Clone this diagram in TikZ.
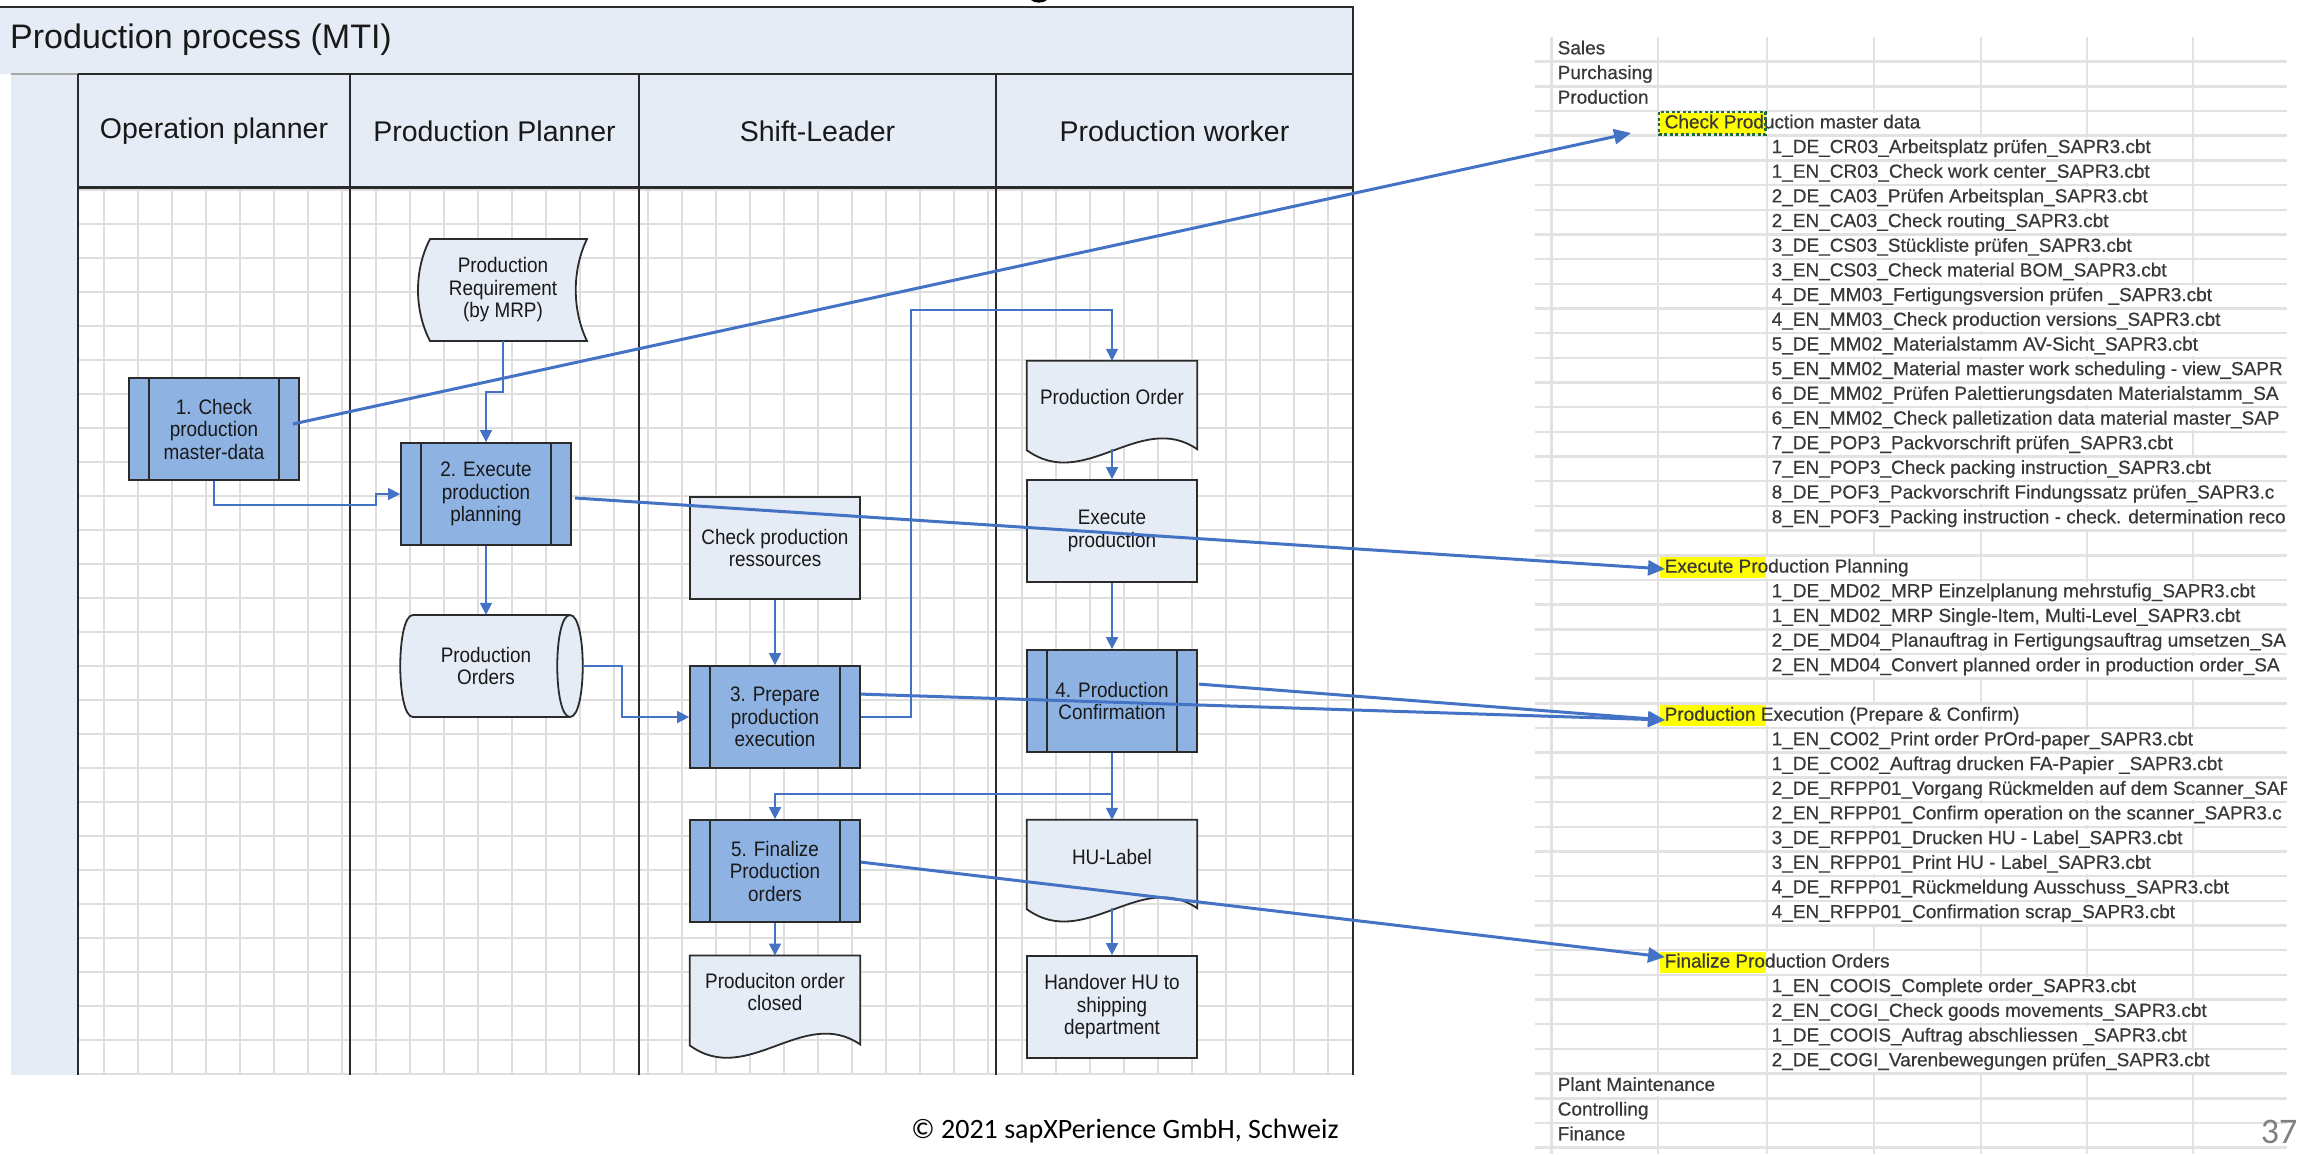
\documentclass[tikz,border=0pt]{standalone}
\usepackage{fontspec}
\setmainfont{Liberation Sans}
\newfontfamily\boxfont[FakeStretch=0.9]{Liberation Sans}
\newfontfamily\sheetfont[FakeBold=0.5]{Liberation Sans}
\newfontfamily\footfont{Carlito}
\usetikzlibrary{arrows.meta,calc}

\definecolor{lanefill}{HTML}{E6ECF6}
\definecolor{taskfill}{HTML}{8EB3E3}
\definecolor{flowblue}{HTML}{4472C4}
\definecolor{gridgray}{HTML}{DEDEDE}
\definecolor{edgegray}{HTML}{2B2B2B}
\definecolor{sheetgray}{HTML}{E2E2E2}
\definecolor{marker}{HTML}{FFFF00}
\definecolor{antgreen}{HTML}{1E6B3A}

\tikzset{
  lanehead/.style={font=\fontsize{28.5}{30}\selectfont, text=black!90, inner sep=0pt},
  boxtext/.style={font=\boxfont\fontsize{21}{22.5}\selectfont, align=center, text=black!90},
  taskbox/.style={boxtext, draw=edgegray, line width=1.8pt, fill=taskfill,
    minimum width=170pt, minimum height=102pt, inner sep=0pt,
    path picture={
      \draw[edgegray, line width=1.8pt]
        ([xshift=20pt]path picture bounding box.north west) --
        ([xshift=20pt]path picture bounding box.south west);
      \draw[edgegray, line width=1.8pt]
        ([xshift=-20pt]path picture bounding box.north east) --
        ([xshift=-20pt]path picture bounding box.south east);}},
  infobox/.style={boxtext, draw=edgegray, line width=1.8pt, fill=lanefill,
    minimum width=170pt, minimum height=102pt, inner sep=0pt},
  shapebody/.style={draw=edgegray, line width=1.8pt, fill=lanefill},
  shapeanchor/.style={inner sep=0pt, minimum width=170pt},
  flowline/.style={draw=flowblue, line width=1.6pt, -{Triangle[length=12pt,width=12pt]}},
  sheetlink/.style={draw=flowblue, line width=3pt, -{Triangle[length=17pt,width=15pt]}},
  gridline/.style={draw=gridgray, line width=1.6pt},
  laneline/.style={draw=edgegray, line width=1.6pt},
  sheetrule/.style={draw=sheetgray, line width=2.5pt},
  sheetcol/.style={draw=sheetgray, line width=2.2pt},
  sheetcell/.style={anchor=west, fill=white, font=\sheetfont\fontsize{19}{21}\selectfont,
    text=black!78, inner xsep=1pt, inner ysep=1.5pt, text height=14pt, text depth=4pt},
  sheethead/.style={sheetcell, inner xsep=5pt,
    path picture={\fill[marker] (path picture bounding box.south west) rectangle
      ([xshift=106pt]path picture bounding box.north west);}},
}

% document symbol with a wavy lower edge, drawn round an anchor node
\newcommand\docshape[1]{%
  \path[shapebody] (#1.north west) -- (#1.north east) -- (#1.south east)
    .. controls +(-57,-39) and +(58,42) .. ($(#1.south west)+(0,1)$) -- cycle;}

% spreadsheet rows: column A, column C and highlighted column B entries
\newcommand\namerow[3]{\node[sheetcell] (#1) at (1556.5,{37+24.68*(#2-0.5)}) {#3};}
\newcommand\itemrow[3]{\node[sheetcell] (#1) at (1770.5,{37+24.68*(#2-0.5)}) {#3};}
\newcommand\headrow[3]{\node[sheethead] (#1) at (1659.5,{37+24.68*(#2-0.5)}) {#3};}

\begin{document}
\begin{tikzpicture}[x=1pt, y=-1pt]
\useasboundingbox (0,0) rectangle (2307,1154);
\fill[white] (0,0) rectangle (2307,1154);

% ---------------- swimlane frame ----------------
\fill[lanefill] (0,6) rectangle (1353,74);
\fill[lanefill] (78,74) rectangle (1353,187);
\fill[lanefill] (11,74) rectangle (78,1075);
\foreach \gx in {0,...,36} \draw[gridline] ({104+34*\gx},188) -- ({104+34*\gx},1075);
\foreach \gy in {0,...,26} \draw[gridline] (79,{190+34*\gy}) -- (1352,{190+34*\gy});
\draw[edgegray, line width=2pt] (0,6.5) -- (1353,6.5);
\draw[black!35, line width=1.5pt] (11,74) -- (78,74);
\draw[edgegray, line width=2pt] (78,74) -- (1353,74);
\draw[edgegray, line width=3pt] (78,187) -- (1353,187);
\draw[laneline] (78,74) -- (78,1075);
\foreach \lx in {350,639,996} \draw[laneline] (\lx,74) -- (\lx,1075);
\draw[laneline] (1353,5.5) -- (1353,1075);
\fill[black] (1031,0) .. controls (1034,3.5) and (1044,3.5) .. (1047,0) -- cycle;

\node[lanehead, font=\fontsize{34}{36}\selectfont, anchor=west] (title) at (10,40) {Production process (MTI)};
\node[lanehead] (hOp) at (214,131) {Operation planner};
\node[lanehead] (hPP) at (494.5,131) {Production Planner};
\node[lanehead] (hSL) at (817.5,131) {Shift-Leader};
\node[lanehead] (hPW) at (1174.5,131) {Production worker};

% ---------------- process symbols ----------------
\path[shapebody] (430,239) -- (587,239) .. controls (572,270) and (572,310) .. (587,341)
  -- (430,341) .. controls (414,310) and (414,270) .. (430,239) -- cycle;
\node[boxtext, minimum width=157pt, minimum height=102pt, inner sep=0pt] (req) at (503,290)
  {Production\\Requirement\\(by MRP)};

\node[taskbox] (t1) at (214,429) {1. Check\\production\\master-data};
\node[taskbox] (t2) at (486,494) {2. Execute\\production\\planning};

\path[shapebody] (413,615) -- (570,615) .. controls (587,615) and (587,717) .. (570,717)
  -- (413,717) .. controls (396,717) and (396,615) .. (413,615) -- cycle;
\draw[edgegray, line width=1.8pt] (570,615) .. controls (553,615) and (553,717) .. (570,717);
\node[boxtext, minimum width=194pt, minimum height=102pt, inner sep=0pt] (ord) at (486,666)
  {Production\\Orders};

\node[infobox] (res) at (775,548) {Check production\\ressources};
\node[taskbox] (t3) at (775,717) {3. Prepare\\production\\execution};
\node[taskbox] (t5) at (775,871) {5. Finalize\\Production\\orders};
\node[shapeanchor, minimum height=88.5pt] (closed) at (775,1000) {};
\docshape{closed}
\node[boxtext] (closedText) at (775,992) {Produciton order\\closed};

\node[shapeanchor, minimum height=88pt] (po) at (1112,405) {};
\docshape{po}
\node[boxtext] (poText) at (1112,397) {Production Order};
\node[infobox] (exe) at (1112,531) {Execute\\production};
\node[taskbox] (t4) at (1112,701) {4. Production\\Confirmation};
\node[shapeanchor, minimum height=88pt] (hu) at (1112,864) {};
\docshape{hu}
\node[boxtext] (huText) at (1112,857) {HU-Label};
\node[infobox] (hand) at (1112,1007) {Handover HU to\\shipping\\department};

% ---------------- process flow ----------------
\draw[flowline] (req.south) -- (503,392) -- (486,392) -- (t2.north);
\draw[flowline] (t1.south) -- (214,505) -- (376,505) -- (376,494) -- (t2.west);
\draw[flowline] (t2.south) -- (ord.north);
\draw[flowline] (ord.east) -- (622,666) -- (622,717) -- (t3.west);
\draw[flowline] (t3.east) -- (911,717) -- (911,310) -- (1112,310) -- (po.north);
\draw[flowline] (po.south) -- (exe.north);
\draw[flowline] (res.south) -- (t3.north);
\draw[flowline] (exe.south) -- (t4.north);
\coordinate (split) at (1112,794);
\draw[flowline] (t4.south) -- (split) -- (hu.north);
\draw[flowline] (split) -- (775,794) -- (t5.north);
\draw[flowline] (hu.south) -- (hand.north);
\draw[flowline] (t5.south) -- (closed.north);

% ---------------- script list (spreadsheet) ----------------
\begin{scope}
\clip (1535,37) rectangle (2287,1154);
\foreach \k in {1,...,45} \draw[sheetrule] (1535,{37+24.68*\k}) -- (2287,{37+24.68*\k});
\foreach \cx in {1551.5,1658,1766.6,1874,1981,2087,2193} \draw[sheetcol] (\cx,37) -- (\cx,1154);

\namerow{sSales}{1}{Sales}
\namerow{sPurch}{2}{Purchasing}
\namerow{sProd}{3}{Production}
\headrow{hdA}{4}{Check Production master data}
\itemrow{r5}{5}{1\_DE\_CR03\_Arbeitsplatz prüfen\_SAPR3.cbt}
\itemrow{r6}{6}{1\_EN\_CR03\_Check work center\_SAPR3.cbt}
\itemrow{r7}{7}{2\_DE\_CA03\_Prüfen Arbeitsplan\_SAPR3.cbt}
\itemrow{r8}{8}{2\_EN\_CA03\_Check routing\_SAPR3.cbt}
\itemrow{r9}{9}{3\_DE\_CS03\_Stückliste prüfen\_SAPR3.cbt}
\itemrow{r10}{10}{3\_EN\_CS03\_Check material BOM\_SAPR3.cbt}
\itemrow{r11}{11}{4\_DE\_MM03\_Fertigungsversion prüfen \_SAPR3.cbt}
\itemrow{r12}{12}{4\_EN\_MM03\_Check production versions\_SAPR3.cbt}
\itemrow{r13}{13}{5\_DE\_MM02\_Materialstamm AV-Sicht\_SAPR3.cbt}
\itemrow{r14}{14}{5\_EN\_MM02\_Material master work scheduling - view\_SAPR}
\itemrow{r15}{15}{6\_DE\_MM02\_Prüfen Palettierungsdaten Materialstamm\_SA}
\itemrow{r16}{16}{6\_EN\_MM02\_Check palletization data material master\_SAP}
\itemrow{r17}{17}{7\_DE\_POP3\_Packvorschrift prüfen\_SAPR3.cbt}
\itemrow{r18}{18}{7\_EN\_POP3\_Check packing instruction\_SAPR3.cbt}
\itemrow{r19}{19}{8\_DE\_POF3\_Packvorschrift Findungssatz prüfen\_SAPR3.c}
\itemrow{r20}{20}{8\_EN\_POF3\_Packing instruction - check. determination reco}
\headrow{hdB}{22}{Execute Production Planning}
\itemrow{r23}{23}{1\_DE\_MD02\_MRP Einzelplanung mehrstufig\_SAPR3.cbt}
\itemrow{r24}{24}{1\_EN\_MD02\_MRP Single-Item, Multi-Level\_SAPR3.cbt}
\itemrow{r25}{25}{2\_DE\_MD04\_Planauftrag in Fertigungsauftrag umsetzen\_SA}
\itemrow{r26}{26}{2\_EN\_MD04\_Convert planned order in production order\_SA}
\headrow{hdC}{28}{Production Execution (Prepare \& Confirm)}
\itemrow{r29}{29}{1\_EN\_CO02\_Print order PrOrd-paper\_SAPR3.cbt}
\itemrow{r30}{30}{1\_DE\_CO02\_Auftrag drucken FA-Papier \_SAPR3.cbt}
\itemrow{r31}{31}{2\_DE\_RFPP01\_Vorgang Rückmelden auf dem Scanner\_SAP}
\itemrow{r32}{32}{2\_EN\_RFPP01\_Confirm operation on the scanner\_SAPR3.c}
\itemrow{r33}{33}{3\_DE\_RFPP01\_Drucken HU - Label\_SAPR3.cbt}
\itemrow{r34}{34}{3\_EN\_RFPP01\_Print HU - Label\_SAPR3.cbt}
\itemrow{r35}{35}{4\_DE\_RFPP01\_Rückmeldung Ausschuss\_SAPR3.cbt}
\itemrow{r36}{36}{4\_EN\_RFPP01\_Confirmation scrap\_SAPR3.cbt}
\headrow{hdD}{38}{Finalize Production Orders}
\itemrow{r39}{39}{1\_EN\_COOIS\_Complete order\_SAPR3.cbt}
\itemrow{r40}{40}{2\_EN\_COGI\_Check goods movements\_SAPR3.cbt}
\itemrow{r41}{41}{1\_DE\_COOIS\_Auftrag abschliessen \_SAPR3.cbt}
\itemrow{r42}{42}{2\_DE\_COGI\_Varenbewegungen prüfen\_SAPR3.cbt}
\namerow{sPM}{43}{Plant Maintenance}
\namerow{sCtrl}{44}{Controlling}
\namerow{sFin}{45}{Finance}
\draw[antgreen, line width=2.2pt, dash pattern=on 3pt off 2.5pt] (1659,112.2) rectangle (1765.5,134.5);
\end{scope}

% ---------------- links from process steps to scripts ----------------
\coordinate (tgtA) at (1631,133);
\coordinate (tgtB) at (1665,569);
\coordinate (tgtC) at (1665,720);
\coordinate (tgtD) at (1665,957);
\draw[sheetlink] ([xshift=-7pt,yshift=5pt]t1.east) -- (tgtA);
\draw[sheetlink] ([xshift=3pt,yshift=-4pt]t2.east) -- (tgtB);
\draw[sheetlink] ([yshift=-29pt]t3.north east) -- (tgtC);
\draw[sheetlink] ([xshift=1pt,yshift=-35pt]t4.north east) -- (tgtC);
\draw[sheetlink] ([yshift=-43pt]t5.north east) -- (tgtD);

% ---------------- footer ----------------
\node[font=\footfont\fontsize{28}{30}\selectfont, text=black] (copyright) at (1125,1131)
  {© 2021 sapXPerience GmbH, Schweiz};
\node[font=\footfont\fontsize{36}{38}\selectfont, text=black!50] (pageno) at (2279,1132) {37};
\end{tikzpicture}
\end{document}
